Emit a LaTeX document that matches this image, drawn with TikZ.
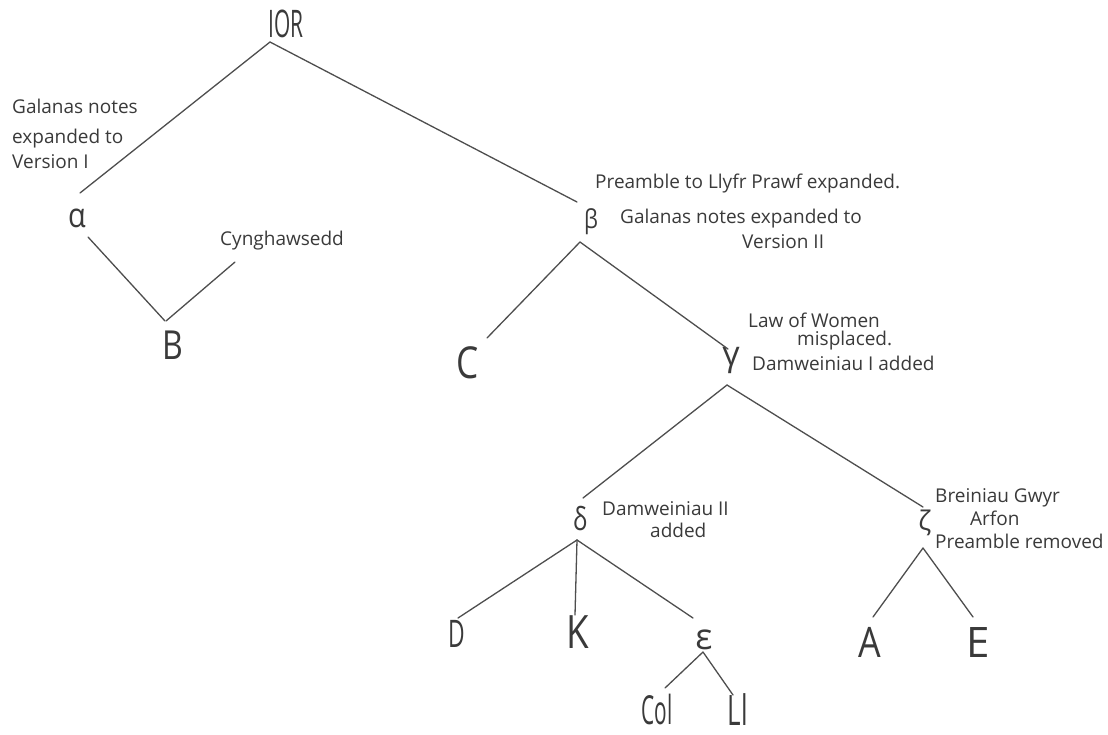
\documentclass[tikz,border=0pt]{standalone}
\usepackage{fontspec}
\usepackage{graphicx}
\setmainfont{Open Sans}
\definecolor{ink}{HTML}{3A3A3A}
\definecolor{stroke}{HTML}{4E4E4E}
% big handwritten-style label: size, horizontal squeeze, text
\newcommand{\hndtxt}[3]{\scalebox{#2}[1]{\fontsize{#1}{#1}\selectfont #3}}
\tikzset{
  lt/.style={inner sep=0pt, text=ink},
  note/.style={inner sep=0pt, anchor=base west, text=ink, font=\fontsize{19}{23}\selectfont},
  branch/.style={draw=stroke, line width=1.3pt, line cap=round},
}
\begin{document}
\begin{tikzpicture}[x=1pt, y=-1pt]
\fill[white] (0,0) rectangle (1108,734);
\path[use as bounding box] (0,0) rectangle (1108,734);

% stemma nodes
\node[lt] (ior)   at (286,24)  {\hndtxt{38}{0.55}{IOR}};
\node[lt] (alpha) at (77,218)  {\hndtxt{34}{0.85}{α}};
\node[lt] (B)     at (173,345) {\hndtxt{40}{0.8}{B}};
\node[lt] (beta)  at (591,222) {\hndtxt{26}{0.85}{β}};
\node[lt] (C)     at (468,363) {\hndtxt{44}{0.8}{C}};
\node[lt] (gamma) at (731,360) {\hndtxt{34}{1}{γ}};
\node[lt] (delta) at (580,519) {\hndtxt{32}{0.75}{δ}};
\node[lt] (zeta)  at (925,523) {\hndtxt{27}{1}{ζ}};
\node[lt] (D)     at (457,634) {\hndtxt{38}{0.6}{D}};
\node[lt] (K)     at (578,632) {\hndtxt{46}{0.8}{K}};
\node[lt] (eps)   at (704,640) {\hndtxt{36}{1}{ε}};
\node[lt] (Col)   at (657,709) {\hndtxt{40}{0.52}{Col}};
\node[lt] (Ll)    at (738,710) {\hndtxt{42}{0.62}{Ll}};
\node[lt] (A)     at (870,642) {\hndtxt{42}{0.85}{A}};
\node[lt] (E)     at (978,642) {\hndtxt{42}{1}{E}};

% annotations
\node[note] (cyng) at (220,245) {Cynghawsedd};

\node[note] (na1) at (12,113) {Galanas notes};
\node[note] (na2) at (12,143) {expanded to};
\node[note] (na3) at (12,168) {Version I};

\node[note] (nb1) at (595,188) {Preamble to Llyfr Prawf expanded.};
\node[note] (nb2) at (620,223) {Galanas notes expanded to};
\node[note] (nb3) at (742,248) {Version II};

\node[note] (ng1) at (748,327) {Law of Women};
\node[note] (ng2) at (797,345) {misplaced.};
\node[note] (ng3) at (752,370) {Damweiniau I added};

\node[note] (nd1) at (602,515) {Damweiniau II};
\node[note] (nd2) at (650,537) {added};

\node[note] (nz1) at (935,502) {Breiniau Gwyr};
\node[note] (nz2) at (970,525) {Arfon};
\node[note] (nz3) at (935,548) {Preamble removed};

% branches
\draw[branch] ([shift={(-16,18)}]ior.center) -- ([shift={(3,-25)}]alpha.center);
\draw[branch] ([shift={(-16,18)}]ior.center) -- ([shift={(-14,-20)}]beta.center);
\draw[branch] ([shift={(11,19)}]alpha.center) -- ([shift={(-8,-24)}]B.center);
\draw[branch] ([shift={(-7,-24)}]B.center) -- ([shift={(15,17)}]cyng.base west);
\draw[branch] ([shift={(-11,20)}]beta.center) -- ([shift={(19,-25)}]C.center);
\draw[branch] ([shift={(-11,20)}]beta.center) -- ([shift={(-3,-11)}]gamma.center);
\draw[branch] ([shift={(-4,25)}]gamma.center) -- ([shift={(3,-21)}]delta.center);
\draw[branch] ([shift={(-4,25)}]gamma.center) -- ([shift={(-2,-16)}]zeta.center);
\draw[branch] ([shift={(-3,21)}]delta.center) -- ([shift={(1,-16)}]D.center);
\draw[branch] ([shift={(-3,21)}]delta.center) -- ([shift={(-3,-17)}]K.center);
\draw[branch] ([shift={(-3,21)}]delta.center) -- ([shift={(-11,-22)}]eps.center);
\draw[branch] ([shift={(-1,12)}]eps.center) -- ([shift={(8,-21)}]Col.center);
\draw[branch] ([shift={(-1,12)}]eps.center) -- ([shift={(-5,-15)}]Ll.center);
\draw[branch] ([shift={(-2,25)}]zeta.center) -- ([shift={(3,-25)}]A.center);
\draw[branch] ([shift={(-2,25)}]zeta.center) -- ([shift={(-5,-25)}]E.center);
\end{tikzpicture}
\end{document}
